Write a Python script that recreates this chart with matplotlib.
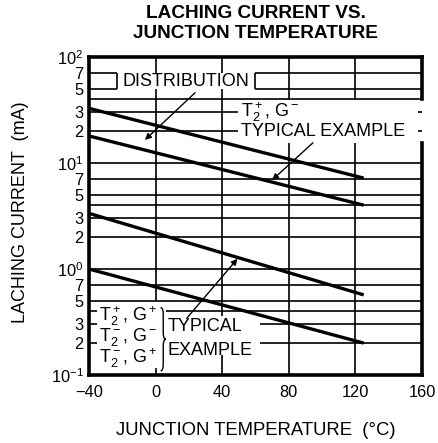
import matplotlib
matplotlib.use("Agg")
import matplotlib.pyplot as plt
from matplotlib.path import Path
from matplotlib.patches import PathPatch

plt.rcParams['font.family'] = ['Liberation Sans', 'DejaVu Sans']
plt.rcParams['mathtext.fontset'] = 'custom'
plt.rcParams['mathtext.rm'] = 'Liberation Sans'
plt.rcParams['mathtext.it'] = 'Liberation Sans'
plt.rcParams['mathtext.bf'] = 'Liberation Sans:bold'

# courbes (droites en echelle log)
temps = [-40, 125]
dist_upper = [32.8, 7.2]
dist_lower = [18.0, 4.0]
typ_upper = [3.35, 0.57]
typ_lower = [1.0, 0.2]

x_ticks = [-40, 0, 40, 80, 120, 160]
x_labels = ['\u221240', '0', '40', '80', '120', '160']
y_ticks = [0.1, 0.2, 0.3, 0.5, 0.7, 1, 2, 3, 5, 7, 10, 20, 30, 50, 70, 100]
y_labels = [r'$10^{-1}$', '2', '3', '5', '7', r'$10^{0}$', '2', '3', '5', '7',
            r'$10^{1}$', '2', '3', '5', '7', r'$10^{2}$']
h_grid = [0.2, 0.3, 0.4, 0.5, 0.7, 1, 2, 3, 4, 5, 7, 10, 20, 30, 40, 50, 70]
v_grid = [0, 40, 80, 120]

# trous dans la grille (zones de texte)
h_gaps = {70: [(-23, 60)], 50: [(-23, 60)],
          30: [(49.5, 157.5)], 20: [(49.5, 157.5)],
          0.4: [(-35, 6.5)], 0.3: [(-35, 62.5)], 0.2: [(-35, 62.5)]}
v_gaps = {0: [(0.116, 0.5), (50, 70)], 40: [(0.155, 0.36), (50, 70)],
          80: [(15.4, 40)], 120: [(15.4, 40)], 160: [(15.4, 40)]}


def pieces(lo, hi, gaps):
    out = []
    start = lo
    for g0, g1 in sorted(gaps):
        out.append((start, g0))
        start = g1
    out.append((start, hi))
    return out


fig = plt.figure(figsize=(4.39, 4.43), dpi=100)
ax = fig.add_axes([0.2027, 0.1535, 0.7585, 0.7178])
ax.set_yscale('log')
ax.set_xlim(-40, 160)
ax.set_ylim(0.1, 100)

grid_kw = dict(color='black', lw=1.2, solid_capstyle='butt', zorder=1)
for v in h_grid:
    for a, b in pieces(-40, 160, h_gaps.get(v, [])):
        ax.plot([a, b], [v, v], **grid_kw)
for x in v_grid:
    for a, b in pieces(0.1, 100, v_gaps.get(x, [])):
        ax.plot([x, x], [a, b], **grid_kw)
# petits crochets autour de DISTRIBUTION
for x in (-23, 60):
    ax.plot([x, x], [50, 70], **grid_kw)

# cadre droit interrompu
ax.spines['right'].set_visible(False)
for a, b in pieces(0.1, 100, v_gaps[160]):
    ax.plot([160, 160], [a, b], color='black', lw=2.6, clip_on=False,
            solid_capstyle='projecting', zorder=3)
for s in ('left', 'top', 'bottom'):
    ax.spines[s].set_linewidth(2.6)

for series in (dist_upper, dist_lower, typ_upper, typ_lower):
    ax.plot(temps, series, color='black', lw=2.4, solid_capstyle='butt', zorder=2)

ax.set_xticks(x_ticks)
ax.set_xticklabels(x_labels)
ax.set_yticks(y_ticks)
ax.set_yticklabels(y_labels)
ax.minorticks_off()
ax.tick_params(axis='both', length=0, labelsize=11.8)
ax.tick_params(axis='x', pad=7)
ax.tick_params(axis='y', pad=4)

fs = 13
ax.text(18.5, 59.2, 'DISTRIBUTION', fontsize=fs, ha='center', va='center')
ax.text(51.5, 30, r'T$_2^+$, G$^-$', fontsize=fs, ha='left', va='center')
ax.text(51.5, 20, 'TYPICAL EXAMPLE', fontsize=fs, ha='left', va='center')
ax.text(-34.2, 0.357, r'T$_2^+$, G$^+$', fontsize=fs, ha='left', va='center')
ax.text(-34.2, 0.226, r'T$_2^-$, G$^-$', fontsize=fs, ha='left', va='center')
ax.text(-34.2, 0.143, r'T$_2^-$, G$^+$', fontsize=fs, ha='left', va='center')
ax.text(7.4, 0.285, 'TYPICAL', fontsize=fs, ha='left', va='center')
ax.text(7.4, 0.172, 'EXAMPLE', fontsize=fs, ha='left', va='center')

arrow_kw = dict(arrowstyle='-|>', color='black', lw=1.0, mutation_scale=9,
                shrinkA=0, shrinkB=0)
ax.annotate('', xy=(-6.4, 16.5), xytext=(23.7, 46), arrowprops=arrow_kw)
ax.annotate('', xy=(70, 6.9), xytext=(94.5, 15.5), arrowprops=arrow_kw)
ax.annotate('', xy=(49.2, 1.25), xytext=(18.7, 0.343), arrowprops=arrow_kw)

# accolade
x0, w = 0.215, 0.016
yt, yb = 0.212, 0.013
ym = (yt + yb) / 2
d = 0.02
verts = [(x0, yt), (x0 + w / 2, yt), (x0 + w / 2, yt - d),
         (x0 + w / 2, ym + d),
         (x0 + w / 2, ym), (x0 + w, ym),
         (x0 + w / 2, ym), (x0 + w / 2, ym - d),
         (x0 + w / 2, yb + d),
         (x0 + w / 2, yb), (x0, yb)]
codes = [Path.MOVETO, Path.CURVE3, Path.CURVE3, Path.LINETO,
         Path.CURVE3, Path.CURVE3, Path.CURVE3, Path.CURVE3,
         Path.LINETO, Path.CURVE3, Path.CURVE3]
ax.add_patch(PathPatch(Path(verts, codes), transform=ax.transAxes,
                       fill=False, lw=1.0, color='black'))

fig.text(0.582, 0.969, 'LACHING CURRENT VS.', fontsize=13.7, fontweight='bold',
         ha='center', va='center')
fig.text(0.582, 0.925, 'JUNCTION TEMPERATURE', fontsize=13.7, fontweight='bold',
         ha='center', va='center')
fig.text(0.582, 0.029, 'JUNCTION TEMPERATURE  (\u00b0C)', fontsize=13.3,
         ha='center', va='center')
fig.text(0.046, 0.522, 'LACHING CURRENT  (mA)', fontsize=13, rotation=90,
         ha='center', va='center')

fig.savefig('out.png', dpi=100)
